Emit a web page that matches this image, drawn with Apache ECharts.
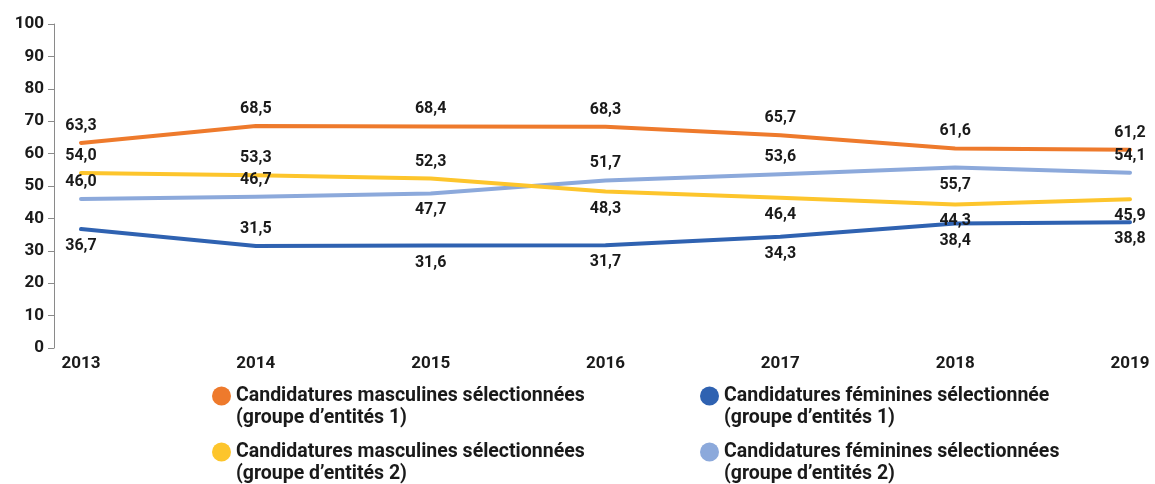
<!DOCTYPE html>
<html>
<head>
<meta charset="utf-8">
<script src="https://cdn.jsdelivr.net/npm/echarts@6/dist/echarts.min.js"></script>
<style>
  html, body { margin: 0; padding: 0; background: #fff; }
  #chartingArea { width: 1155px; height: 484px; }
</style>
</head>
<body>
<div id="chartingArea"></div>
<script>
const years = ['2013', '2014', '2015', '2016', '2017', '2018', '2019'];
const yTicks = [0, 100, 10];

const masc1 = [63.3, 68.5, 68.4, 68.3, 65.7, 61.6, 61.2];
const fem1 = [36.7, 31.5, 31.6, 31.7, 34.3, 38.4, 38.8];
const masc2 = [54.0, 53.3, 52.3, 48.3, 46.4, 44.3, 45.9];
const fem2 = [46.0, 46.7, 47.7, 51.7, 53.6, 55.7, 54.1];

const names = [
  'Candidatures masculines sélectionnées\n(groupe d’entités 1)',
  'Candidatures féminines sélectionnée\n(groupe d’entités 1)',
  'Candidatures masculines sélectionnées\n(groupe d’entités 2)',
  'Candidatures féminines sélectionnées\n(groupe d’entités 2)'
];
const colors = ['#EE7A2C', '#2F62B1', '#FDC52C', '#8CA9DB'];

// where each value label sits
const place = {
  masc1: ['top', 'top', 'top', 'top', 'top', 'top', 'top'],
  fem1: ['bottom', 'top', 'bottom', 'bottom', 'bottom', 'bottom', 'bottom'],
  masc2: ['top', 'top', 'top', 'bottom', 'bottom', 'bottom', 'bottom'],
  fem2: ['top', 'top', 'bottom', 'top', 'top', 'bottom', 'top']
};

const fmt = v => v.toFixed(1).replace('.', ',');

function line(name, color, values, pos) {
  return {
    name: name,
    type: 'line',
    data: values.map((v, i) => ({ value: v, label: { position: pos[i] } })),
    symbol: 'circle',
    symbolSize: 0,
    color: color,
    lineStyle: { width: 4, color: color, cap: 'round', join: 'round' },
    label: {
      show: true,
      distance: 9,
      color: '#1a1a1a',
      fontFamily: 'Roboto',
      fontWeight: 'bold',
      fontSize: 16,
      formatter: p => fmt(p.value)
    },
    emphasis: { disabled: true }
  };
}

function legendAt(i, left, top) {
  return {
    data: [names[i]],
    left: left,
    top: top,
    padding: 0,
    icon: 'circle',
    itemWidth: 19,
    itemHeight: 19,
    itemGap: 5,
    selectedMode: false,
    // blank first line so the icon lines up with the first text line
    formatter: n => '\n' + n,
    textStyle: {
      fontFamily: 'Roboto',
      fontWeight: 'bold',
      fontSize: 19.5,
      lineHeight: 22,
      color: '#1a1a1a'
    }
  };
}

const chart = echarts.init(document.getElementById('chartingArea'));
chart.setOption({
  animation: false,
  grid: { left: 81, right: 25, top: 24, bottom: 136 },
  legend: [
    legendAt(0, 212, 363),
    legendAt(1, 700, 363),
    legendAt(2, 212, 419),
    legendAt(3, 700, 419)
  ],
  xAxis: {
    type: 'category',
    data: years,
    boundaryGap: false,
    axisLine: { show: false },
    axisTick: { show: false },
    axisLabel: {
      margin: 7,
      color: '#1a1a1a',
      fontFamily: 'Roboto',
      fontWeight: 'bold',
      fontSize: 17
    }
  },
  yAxis: {
    type: 'value',
    min: yTicks[0],
    max: yTicks[1],
    interval: yTicks[2],
    offset: 27,
    splitLine: { show: false },
    axisLine: { show: true, lineStyle: { color: '#8a8a8a', width: 1 } },
    axisTick: { show: true, length: 6, lineStyle: { color: '#8a8a8a' } },
    axisLabel: {
      margin: 10,
      color: '#1a1a1a',
      fontFamily: 'Roboto',
      fontWeight: 'bold',
      fontSize: 17
    }
  },
  series: [
    line(names[3], colors[3], fem2, place.fem2),
    line(names[2], colors[2], masc2, place.masc2),
    line(names[1], colors[1], fem1, place.fem1),
    line(names[0], colors[0], masc1, place.masc1)
  ]
});
</script>
</body>
</html>
